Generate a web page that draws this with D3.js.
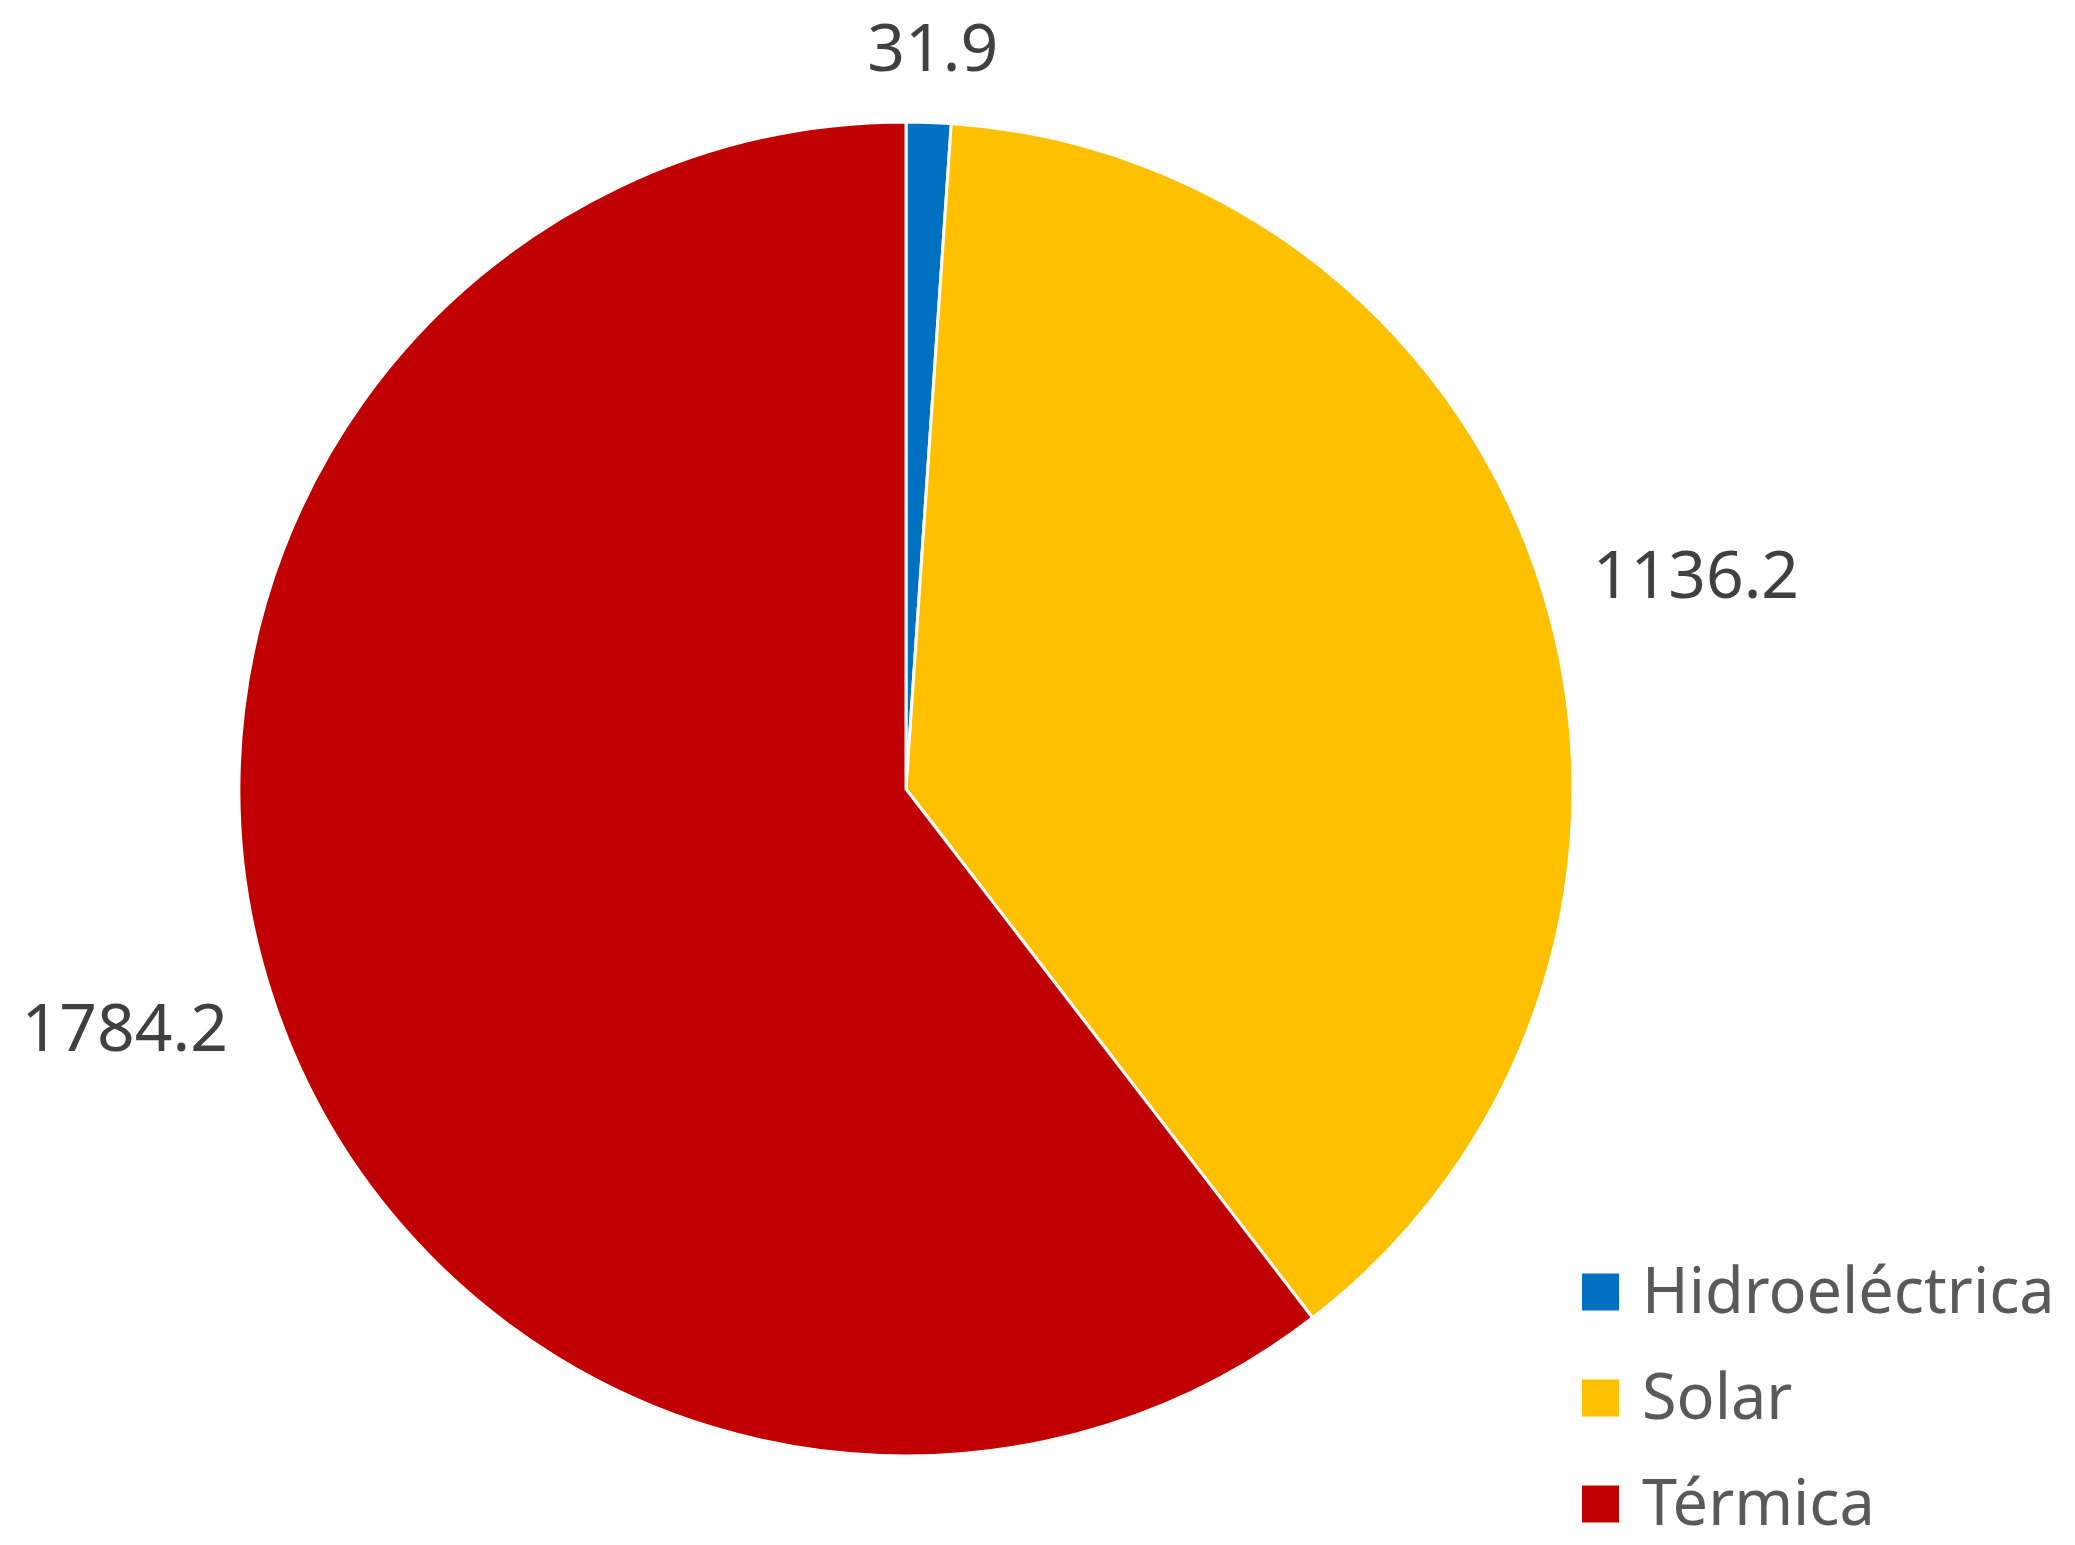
<!DOCTYPE html>
<html>
<head>
<meta charset="utf-8">
<script src="https://cdn.jsdelivr.net/npm/d3@7"></script>
<style>
  body { margin: 0; background: #fff; }
  svg { display: block; font-family: "Noto Sans", "Open Sans", sans-serif; }
</style>
</head>
<body>
<svg width="2075" height="1545"></svg>
<script>
// generation by source (pie)
const categories = ["Hidroeléctrica", "Solar", "Térmica"];
const values = [31.9, 1136.2, 1784.2];
const colors = ["#0070C0", "#FFC000", "#C00000"];

var svg = d3.select("svg"),
    cx = 906,
    cy = 789,
    radius = 667,
    fontSize = 66,
    capHalf = fontSize * 0.714 / 2

var data = categories.map(function(c, i) { return {name: c, value: values[i], color: colors[i]} })

var pie = d3.pie().sort(null).value(function(d) { return d.value })
var arc = d3.arc().innerRadius(0).outerRadius(radius)

var g = svg.append("g")
    .attr("transform", "translate(" + cx + "," + cy + ")")

var arcs = pie(data)

g.selectAll(".slice")
    .data(arcs)
    .enter()
    .append("path")
    .attr("class", "slice")
    .attr("d", arc)
    .attr("fill", function(d) { return d.data.color })
    .attr("stroke", "#fff")
    .attr("stroke-width", 3)
    .attr("stroke-linejoin", "round")

// data labels, outside end
var gap = 55
g.selectAll(".lbl")
    .data(arcs)
    .enter()
    .append("text")
    .attr("class", "lbl")
    .attr("font-size", fontSize + "px")
    .attr("fill", "#404040")
    .attr("text-anchor", "middle")
    .text(function(d) { return d.data.value.toFixed(1) })
    .each(function(d) {
        var a = (d.startAngle + d.endAngle) / 2
        var w = this.getComputedTextLength()
        var r = radius + gap
        var x = r * Math.sin(a) + Math.sin(a) * w / 2
        var y = -r * Math.cos(a) - Math.cos(a) * 20
        d3.select(this).attr("x", x).attr("y", y + capHalf)
    })

// legend
var legFont = 63,
    legCap = legFont * 0.714 / 2
var legend = svg.append("g").attr("transform", "translate(1582,1290)")
var rowH = 106, box = 37

var items = legend.selectAll(".item")
    .data(data)
    .enter()
    .append("g")
    .attr("class", "item")
    .attr("transform", function(d, i) { return "translate(0," + (i * rowH) + ")" })

items.append("rect")
    .attr("x", 0)
    .attr("y", -box / 2 + 2)
    .attr("width", box)
    .attr("height", box)
    .attr("fill", function(d) { return d.color })

items.append("text")
    .attr("x", 60)
    .attr("y", legCap)
    .attr("font-size", legFont + "px")
    .attr("fill", "#595959")
    .text(function(d) { return d.name })
</script>
</body>
</html>
